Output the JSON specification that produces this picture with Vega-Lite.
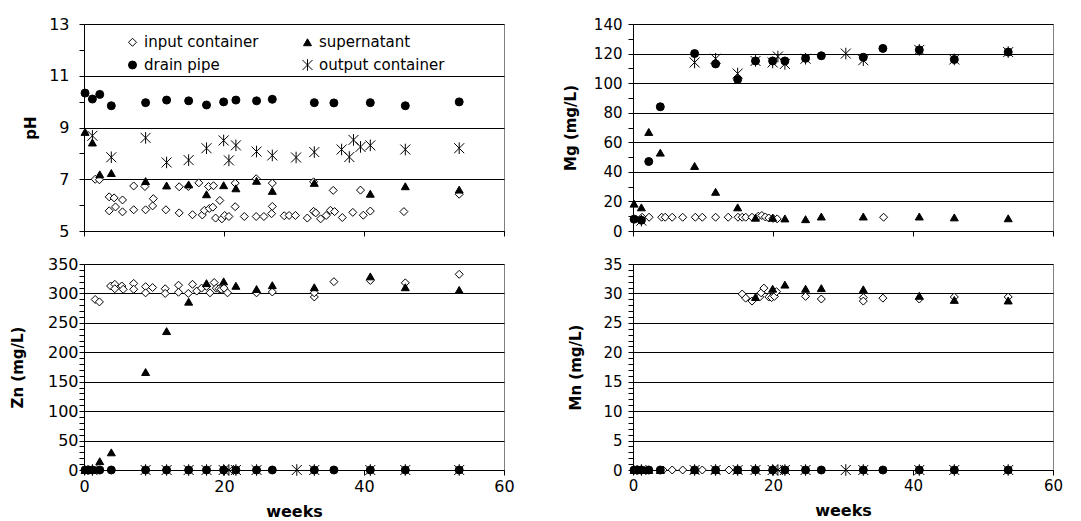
{
"$schema": "https://vega.github.io/schema/vega-lite/v6.json",
"background": "white",
"padding": {"left": 9, "top": 15, "right": 0, "bottom": 0},
"config": {
  "font": "DejaVu Sans",
  "view": {"stroke": "#808080", "strokeWidth": 1},
  "axis": {"labelFont": "DejaVu Sans", "labelColor": "black", "titleFont": "DejaVu Sans", "titleColor": "black", "titleFontWeight": "bold", "titleFontSize": 15, "domainColor": "black", "domainWidth": 1, "tickColor": "black", "tickWidth": 1, "tickSize": 5, "gridColor": "black", "gridWidth": 1, "labelFlush": false, "labelOverlap": false, "labelBound": false},
  "axisX": {"grid": false, "labelPadding": 3, "titlePadding": 9, "titleFontSize": 16}
},
"datasets": {
  "ph": [
    {"series":"input container","week":1.6,"value":7.0},{"series":"input container","week":2.2,"value":6.98},{"series":"input container","week":3.6,"value":6.32},{"series":"input container","week":4.3,"value":6.28},{"series":"input container","week":3.6,"value":5.78},{"series":"input container","week":4.5,"value":5.93},{"series":"input container","week":5.5,"value":6.2},{"series":"input container","week":5.5,"value":5.74},{"series":"input container","week":7.1,"value":6.74},{"series":"input container","week":7.1,"value":5.82},{"series":"input container","week":8.7,"value":6.72},{"series":"input container","week":8.8,"value":5.82},{"series":"input container","week":9.9,"value":6.25},{"series":"input container","week":9.8,"value":5.97},{"series":"input container","week":11.7,"value":5.82},{"series":"input container","week":13.6,"value":6.71},{"series":"input container","week":13.6,"value":5.7},{"series":"input container","week":14.9,"value":6.72},{"series":"input container","week":15.5,"value":5.63},{"series":"input container","week":16.4,"value":6.86},{"series":"input container","week":16.9,"value":5.62},{"series":"input container","week":17.2,"value":5.8},{"series":"input container","week":17.8,"value":6.72},{"series":"input container","week":17.9,"value":5.87},{"series":"input container","week":18.5,"value":6.75},{"series":"input container","week":18.4,"value":5.92},{"series":"input container","week":19.4,"value":6.18},{"series":"input container","week":18.8,"value":5.5},{"series":"input container","week":19.7,"value":5.47},{"series":"input container","week":20.1,"value":5.6},{"series":"input container","week":20.7,"value":5.56},{"series":"input container","week":21.6,"value":6.85},{"series":"input container","week":21.6,"value":5.94},{"series":"input container","week":22.9,"value":5.56},{"series":"input container","week":24.6,"value":7.02},{"series":"input container","week":24.6,"value":5.56},{"series":"input container","week":25.7,"value":5.56},{"series":"input container","week":26.9,"value":6.85},{"series":"input container","week":26.9,"value":5.95},{"series":"input container","week":26.8,"value":5.67},{"series":"input container","week":28.6,"value":5.59},{"series":"input container","week":29.3,"value":5.6},{"series":"input container","week":30.2,"value":5.6},{"series":"input container","week":31.9,"value":5.5},{"series":"input container","week":32.8,"value":5.76},{"series":"input container","week":33.1,"value":5.7},{"series":"input container","week":33.8,"value":5.47},{"series":"input container","week":34.6,"value":5.6},{"series":"input container","week":35.2,"value":5.8},{"series":"input container","week":35.6,"value":6.57},{"series":"input container","week":35.8,"value":5.75},{"series":"input container","week":36.9,"value":5.52},{"series":"input container","week":38.4,"value":5.72},{"series":"input container","week":39.5,"value":6.58},{"series":"input container","week":39.9,"value":5.61},{"series":"input container","week":40.9,"value":5.77},{"series":"input container","week":45.7,"value":5.75},{"series":"input container","week":32.8,"value":6.9},{"series":"input container","week":53.6,"value":6.42},
    {"series":"supernatant","week":0.15,"value":8.83},{"series":"supernatant","week":1.2,"value":8.42},{"series":"supernatant","week":2.25,"value":7.19},{"series":"supernatant","week":3.9,"value":7.24},{"series":"supernatant","week":8.8,"value":6.93},{"series":"supernatant","week":11.8,"value":6.76},{"series":"supernatant","week":14.95,"value":6.8},{"series":"supernatant","week":17.5,"value":6.42},{"series":"supernatant","week":19.95,"value":6.77},{"series":"supernatant","week":21.7,"value":6.65},{"series":"supernatant","week":24.65,"value":6.94},{"series":"supernatant","week":26.9,"value":6.55},{"series":"supernatant","week":32.9,"value":6.86},{"series":"supernatant","week":40.9,"value":6.44},{"series":"supernatant","week":45.9,"value":6.73},{"series":"supernatant","week":53.6,"value":6.6},
    {"series":"drain pipe","week":0.15,"value":10.33},{"series":"drain pipe","week":1.2,"value":10.1},{"series":"drain pipe","week":2.25,"value":10.28},{"series":"drain pipe","week":3.9,"value":9.84},{"series":"drain pipe","week":8.8,"value":9.96},{"series":"drain pipe","week":11.8,"value":10.06},{"series":"drain pipe","week":14.95,"value":10.03},{"series":"drain pipe","week":17.5,"value":9.87},{"series":"drain pipe","week":19.95,"value":9.99},{"series":"drain pipe","week":21.7,"value":10.06},{"series":"drain pipe","week":24.65,"value":10.03},{"series":"drain pipe","week":26.9,"value":10.09},{"series":"drain pipe","week":32.9,"value":9.96},{"series":"drain pipe","week":35.7,"value":9.95},{"series":"drain pipe","week":40.9,"value":9.96},{"series":"drain pipe","week":45.9,"value":9.84},{"series":"drain pipe","week":53.6,"value":9.99},
    {"series":"output container","week":1.2,"value":8.68},{"series":"output container","week":3.9,"value":7.85},{"series":"output container","week":8.8,"value":8.6},{"series":"output container","week":11.8,"value":7.65},{"series":"output container","week":14.95,"value":7.74},{"series":"output container","week":17.5,"value":8.2},{"series":"output container","week":19.95,"value":8.5},{"series":"output container","week":20.7,"value":7.73},{"series":"output container","week":21.7,"value":8.31},{"series":"output container","week":24.65,"value":8.07},{"series":"output container","week":26.9,"value":7.92},{"series":"output container","week":30.3,"value":7.84},{"series":"output container","week":32.9,"value":8.05},{"series":"output container","week":36.8,"value":8.15},{"series":"output container","week":37.9,"value":7.86},{"series":"output container","week":38.5,"value":8.52},{"series":"output container","week":39.5,"value":8.25},{"series":"output container","week":40.9,"value":8.31},{"series":"output container","week":45.9,"value":8.15},{"series":"output container","week":53.6,"value":8.2}
  ],
  "mg": [
    {"series":"input container","week":1.3,"value":9.3},{"series":"input container","week":2.3,"value":9.3},{"series":"input container","week":4.1,"value":9.3},{"series":"input container","week":4.6,"value":9.3},{"series":"input container","week":5.6,"value":9.3},{"series":"input container","week":7.1,"value":9.3},{"series":"input container","week":8.9,"value":9.3},{"series":"input container","week":9.9,"value":9.3},{"series":"input container","week":11.8,"value":9.3},{"series":"input container","week":13.6,"value":9.3},{"series":"input container","week":15.0,"value":9.3},{"series":"input container","week":15.6,"value":9.3},{"series":"input container","week":16.1,"value":9.3},{"series":"input container","week":17.0,"value":9.3},{"series":"input container","week":17.9,"value":10.0},{"series":"input container","week":18.4,"value":10.5},{"series":"input container","week":18.9,"value":9.5},{"series":"input container","week":19.4,"value":8.8},{"series":"input container","week":20.0,"value":8.5},{"series":"input container","week":20.6,"value":8.2},{"series":"input container","week":35.8,"value":9.3},
    {"series":"supernatant","week":0.15,"value":18.5},{"series":"supernatant","week":1.2,"value":16},{"series":"supernatant","week":2.25,"value":67},{"series":"supernatant","week":3.9,"value":53},{"series":"supernatant","week":8.8,"value":44},{"series":"supernatant","week":11.8,"value":26.5},{"series":"supernatant","week":14.95,"value":16},{"series":"supernatant","week":17.5,"value":9},{"series":"supernatant","week":19.95,"value":9},{"series":"supernatant","week":21.7,"value":8.5},{"series":"supernatant","week":24.65,"value":8},{"series":"supernatant","week":26.9,"value":9.8},{"series":"supernatant","week":32.9,"value":9.8},{"series":"supernatant","week":40.9,"value":9.8},{"series":"supernatant","week":45.9,"value":9.2},{"series":"supernatant","week":53.6,"value":8.6},
    {"series":"drain pipe","week":0.15,"value":8},{"series":"drain pipe","week":1.2,"value":7.3},{"series":"drain pipe","week":2.25,"value":47},{"series":"drain pipe","week":3.9,"value":84},{"series":"drain pipe","week":8.8,"value":120},{"series":"drain pipe","week":11.8,"value":113},{"series":"drain pipe","week":14.95,"value":102.5},{"series":"drain pipe","week":17.5,"value":115},{"series":"drain pipe","week":19.95,"value":115},{"series":"drain pipe","week":21.7,"value":115},{"series":"drain pipe","week":24.65,"value":116.8},{"series":"drain pipe","week":26.9,"value":118.5},{"series":"drain pipe","week":32.9,"value":117.5},{"series":"drain pipe","week":35.7,"value":123.5},{"series":"drain pipe","week":40.9,"value":122.5},{"series":"drain pipe","week":45.9,"value":116},{"series":"drain pipe","week":53.6,"value":121},
    {"series":"output container","week":1.2,"value":7},{"series":"output container","week":8.8,"value":114},{"series":"output container","week":11.8,"value":116.5},{"series":"output container","week":14.95,"value":106.5},{"series":"output container","week":17.5,"value":115},{"series":"output container","week":19.95,"value":114},{"series":"output container","week":20.7,"value":118},{"series":"output container","week":21.7,"value":113},{"series":"output container","week":24.65,"value":116.5},{"series":"output container","week":30.4,"value":120},{"series":"output container","week":32.9,"value":115.5},{"series":"output container","week":40.9,"value":122.5},{"series":"output container","week":45.9,"value":116},{"series":"output container","week":53.6,"value":121}
  ],
  "zn": [
    {"series":"input container","week":1.6,"value":289.7},{"series":"input container","week":2.2,"value":285.6},{"series":"input container","week":3.8,"value":312.6},{"series":"input container","week":4.4,"value":315.5},{"series":"input container","week":4.4,"value":308},{"series":"input container","week":5.4,"value":312.6},{"series":"input container","week":5.6,"value":307},{"series":"input container","week":7.1,"value":317},{"series":"input container","week":7.1,"value":307},{"series":"input container","week":8.8,"value":311.5},{"series":"input container","week":8.8,"value":301},{"series":"input container","week":9.8,"value":310},{"series":"input container","week":11.6,"value":308},{"series":"input container","week":11.6,"value":300},{"series":"input container","week":13.5,"value":314},{"series":"input container","week":13.5,"value":302},{"series":"input container","week":14.9,"value":300},{"series":"input container","week":15.5,"value":315.5},{"series":"input container","week":16.1,"value":304},{"series":"input container","week":16.8,"value":309},{"series":"input container","week":17.5,"value":312},{"series":"input container","week":18.0,"value":301},{"series":"input container","week":18.6,"value":318.5},{"series":"input container","week":18.9,"value":309},{"series":"input container","week":19.3,"value":308},{"series":"input container","week":19.6,"value":307},{"series":"input container","week":20.0,"value":309},{"series":"input container","week":20.5,"value":301},{"series":"input container","week":24.65,"value":301},{"series":"input container","week":26.9,"value":302.5},{"series":"input container","week":32.9,"value":294},{"series":"input container","week":32.9,"value":301},{"series":"input container","week":35.7,"value":320},{"series":"input container","week":40.9,"value":322},{"series":"input container","week":45.9,"value":318},{"series":"input container","week":53.6,"value":332.5},
    {"series":"supernatant","week":0.15,"value":0},{"series":"supernatant","week":1.2,"value":0},{"series":"supernatant","week":2.25,"value":15},{"series":"supernatant","week":3.9,"value":30},{"series":"supernatant","week":8.8,"value":166.5},{"series":"supernatant","week":11.8,"value":236},{"series":"supernatant","week":14.95,"value":286},{"series":"supernatant","week":17.5,"value":317.5},{"series":"supernatant","week":19.95,"value":320.5},{"series":"supernatant","week":21.7,"value":313},{"series":"supernatant","week":24.65,"value":307.5},{"series":"supernatant","week":26.9,"value":314},{"series":"supernatant","week":32.9,"value":310.5},{"series":"supernatant","week":40.9,"value":329},{"series":"supernatant","week":45.9,"value":310.5},{"series":"supernatant","week":53.6,"value":306},
    {"series":"drain pipe","week":0.15,"value":0},{"series":"drain pipe","week":0.7,"value":0},{"series":"drain pipe","week":1.2,"value":0},{"series":"drain pipe","week":2.25,"value":0},{"series":"drain pipe","week":3.9,"value":0},{"series":"drain pipe","week":8.8,"value":0},{"series":"drain pipe","week":11.8,"value":0},{"series":"drain pipe","week":14.95,"value":0},{"series":"drain pipe","week":17.5,"value":0},{"series":"drain pipe","week":19.95,"value":0},{"series":"drain pipe","week":21.7,"value":0},{"series":"drain pipe","week":24.65,"value":0},{"series":"drain pipe","week":26.9,"value":0},{"series":"drain pipe","week":32.9,"value":0},{"series":"drain pipe","week":35.7,"value":0},{"series":"drain pipe","week":40.9,"value":0},{"series":"drain pipe","week":45.9,"value":0},{"series":"drain pipe","week":53.6,"value":0},
    {"series":"output container","week":1.2,"value":0},{"series":"output container","week":8.8,"value":0},{"series":"output container","week":11.8,"value":0},{"series":"output container","week":14.95,"value":0},{"series":"output container","week":17.5,"value":0},{"series":"output container","week":19.95,"value":0},{"series":"output container","week":20.7,"value":0},{"series":"output container","week":21.7,"value":0},{"series":"output container","week":24.65,"value":0},{"series":"output container","week":30.4,"value":0},{"series":"output container","week":32.9,"value":0},{"series":"output container","week":40.9,"value":0},{"series":"output container","week":45.9,"value":0},{"series":"output container","week":53.6,"value":0}
  ],
  "mn": [
    {"series":"input container","week":4.3,"value":0},{"series":"input container","week":5.6,"value":0},{"series":"input container","week":7.1,"value":0},{"series":"input container","week":9.9,"value":0},{"series":"input container","week":13.7,"value":0},{"series":"input container","week":15.6,"value":29.9},{"series":"input container","week":16.1,"value":29.2},{"series":"input container","week":17.0,"value":28.7},{"series":"input container","week":18.1,"value":29.4},{"series":"input container","week":18.3,"value":30.1},{"series":"input container","week":18.7,"value":30.9},{"series":"input container","week":19.4,"value":29.4},{"series":"input container","week":19.8,"value":29.3},{"series":"input container","week":20.2,"value":29.5},{"series":"input container","week":20.5,"value":30.3},{"series":"input container","week":24.65,"value":29.5},{"series":"input container","week":26.9,"value":29.05},{"series":"input container","week":32.9,"value":29.3},{"series":"input container","week":32.9,"value":28.7},{"series":"input container","week":35.7,"value":29.2},{"series":"input container","week":40.9,"value":29.05},{"series":"input container","week":45.9,"value":29.4},{"series":"input container","week":53.6,"value":29.4},
    {"series":"supernatant","week":0.15,"value":0},{"series":"supernatant","week":1.2,"value":0},{"series":"supernatant","week":2.25,"value":0},{"series":"supernatant","week":3.9,"value":0},{"series":"supernatant","week":8.8,"value":0},{"series":"supernatant","week":11.8,"value":0},{"series":"supernatant","week":14.95,"value":0},{"series":"supernatant","week":17.5,"value":29.4},{"series":"supernatant","week":19.95,"value":30.8},{"series":"supernatant","week":21.7,"value":31.5},{"series":"supernatant","week":24.65,"value":30.8},{"series":"supernatant","week":26.9,"value":30.9},{"series":"supernatant","week":32.9,"value":30.7},{"series":"supernatant","week":40.9,"value":29.6},{"series":"supernatant","week":45.9,"value":28.9},{"series":"supernatant","week":53.6,"value":28.8},
    {"series":"drain pipe","week":0.15,"value":0},{"series":"drain pipe","week":0.7,"value":0},{"series":"drain pipe","week":1.2,"value":0},{"series":"drain pipe","week":2.25,"value":0},{"series":"drain pipe","week":3.9,"value":0},{"series":"drain pipe","week":8.8,"value":0},{"series":"drain pipe","week":11.8,"value":0},{"series":"drain pipe","week":14.95,"value":0},{"series":"drain pipe","week":17.5,"value":0},{"series":"drain pipe","week":19.95,"value":0},{"series":"drain pipe","week":21.7,"value":0},{"series":"drain pipe","week":24.65,"value":0},{"series":"drain pipe","week":26.9,"value":0},{"series":"drain pipe","week":32.9,"value":0},{"series":"drain pipe","week":35.7,"value":0},{"series":"drain pipe","week":40.9,"value":0},{"series":"drain pipe","week":45.9,"value":0},{"series":"drain pipe","week":53.6,"value":0},
    {"series":"output container","week":1.2,"value":0},{"series":"output container","week":8.8,"value":0},{"series":"output container","week":11.8,"value":0},{"series":"output container","week":14.95,"value":0},{"series":"output container","week":17.5,"value":0},{"series":"output container","week":19.95,"value":0},{"series":"output container","week":20.7,"value":0},{"series":"output container","week":21.7,"value":0},{"series":"output container","week":24.65,"value":0},{"series":"output container","week":30.4,"value":0},{"series":"output container","week":32.9,"value":0},{"series":"output container","week":40.9,"value":0},{"series":"output container","week":45.9,"value":0},{"series":"output container","week":53.6,"value":0}
  ]
},
"columns": 2,
"spacing": {"row": 15, "column": 47},
"resolve": {"legend": {"shape": "independent", "fill": "independent", "stroke": "independent"}},
"concat": [
  {
    "width": 420, "height": 207,
    "data": {"name": "ph"},
    "mark": {"type": "point", "filled": false, "opacity": 1, "strokeWidth": 1, "size": 64},
    "encoding": {
      "x": {"field": "week", "type": "quantitative", "scale": {"domain": [0, 60], "nice": false}, "axis": {"values": [0, 20, 40, 60], "labels": false, "title": null}},
      "y": {"field": "value", "type": "quantitative", "scale": {"domain": [5, 13], "nice": false, "zero": false}, "axis": {"values": [5, 6, 7, 8, 9, 10, 11, 12, 13], "labelExpr": "(datum.value - 5) % 2 === 0 ? datum.label : ''", "grid": true, "gridOpacity": {"condition": {"test": "(datum.value - 5) % 2 === 0", "value": 1}, "value": 0}, "title": "pH", "labelFontSize": 16, "labelPadding": 10, "titlePadding": 10}},
      "shape": {"field": "series", "type": "nominal", "scale": {"domain": ["input container", "supernatant", "drain pipe", "output container"], "range": ["diamond", "triangle-up", "circle", "M-1.25,-1.25L1.25,1.25M-1.25,1.25L1.25,-1.25M0,-1.45L0,1.45"]}, "legend": {"orient": "none", "legendX": 41, "legendY": 10.5, "columns": 2, "direction": "horizontal", "title": null, "labelFont": "DejaVu Sans", "labelFontSize": 15, "labelColor": "black", "symbolStrokeWidth": 1, "symbolSize": 64, "symbolOpacity": 1, "labelOffset": 4, "columnPadding": 41, "rowPadding": 6, "padding": 0}},
      "fill": {"field": "series", "type": "nominal", "scale": {"domain": ["input container", "supernatant", "drain pipe", "output container"], "range": ["white", "black", "black", "transparent"]}, "legend": {"orient": "none", "legendX": 41, "legendY": 10.5, "columns": 2, "direction": "horizontal", "title": null, "labelFont": "DejaVu Sans", "labelFontSize": 15, "labelColor": "black", "symbolStrokeWidth": 1, "symbolSize": 64, "symbolOpacity": 1, "labelOffset": 4, "columnPadding": 41, "rowPadding": 6, "padding": 0}},
      "stroke": {"field": "series", "type": "nominal", "scale": {"domain": ["input container", "supernatant", "drain pipe", "output container"], "range": ["black", "black", "black", "black"]}, "legend": {"orient": "none", "legendX": 41, "legendY": 10.5, "columns": 2, "direction": "horizontal", "title": null, "labelFont": "DejaVu Sans", "labelFontSize": 15, "labelColor": "black", "symbolStrokeWidth": 1, "symbolSize": 64, "symbolOpacity": 1, "labelOffset": 4, "columnPadding": 41, "rowPadding": 6, "padding": 0}}
    }
  },
  {
    "width": 420, "height": 207,
    "data": {"name": "mg"},
    "mark": {"type": "point", "filled": false, "opacity": 1, "strokeWidth": 1, "size": 64},
    "encoding": {
      "x": {"field": "week", "type": "quantitative", "scale": {"domain": [0, 60], "nice": false}, "axis": {"values": [0, 20, 40, 60], "labels": false, "title": null}},
      "y": {"field": "value", "type": "quantitative", "scale": {"domain": [0, 140], "nice": false}, "axis": {"values": [0, 10, 20, 30, 40, 50, 60, 70, 80, 90, 100, 110, 120, 130, 140], "labelExpr": "datum.value % 20 === 0 ? datum.label : ''", "grid": true, "gridOpacity": {"condition": {"test": "datum.value % 20 === 0", "value": 1}, "value": 0}, "title": "Mg (mg/L)", "labelFontSize": 15, "labelPadding": 6, "titlePadding": 15}},
      "shape": {"field": "series", "type": "nominal", "scale": {"domain": ["input container", "supernatant", "drain pipe", "output container"], "range": ["diamond", "triangle-up", "circle", "M-1.25,-1.25L1.25,1.25M-1.25,1.25L1.25,-1.25M0,-1.45L0,1.45"]}, "legend": null},
      "fill": {"field": "series", "type": "nominal", "scale": {"domain": ["input container", "supernatant", "drain pipe", "output container"], "range": ["white", "black", "black", "transparent"]}, "legend": null},
      "stroke": {"field": "series", "type": "nominal", "scale": {"domain": ["input container", "supernatant", "drain pipe", "output container"], "range": ["black", "black", "black", "black"]}, "legend": null}
    }
  },
  {
    "width": 420, "height": 206,
    "data": {"name": "zn"},
    "mark": {"type": "point", "filled": false, "opacity": 1, "strokeWidth": 1, "size": 64},
    "encoding": {
      "x": {"field": "week", "type": "quantitative", "scale": {"domain": [0, 60], "nice": false}, "axis": {"values": [0, 20, 40, 60], "title": "weeks", "labelFontSize": 16}},
      "y": {"field": "value", "type": "quantitative", "scale": {"domain": [0, 350], "nice": false}, "axis": {"values": [0, 10, 20, 30, 40, 50, 60, 70, 80, 90, 100, 110, 120, 130, 140, 150, 160, 170, 180, 190, 200, 210, 220, 230, 240, 250, 260, 270, 280, 290, 300, 310, 320, 330, 340, 350], "labelExpr": "datum.value % 50 === 0 ? datum.label : ''", "grid": true, "gridOpacity": {"condition": {"test": "datum.value % 50 === 0", "value": 1}, "value": 0}, "title": "Zn (mg/L)", "labelFontSize": 16, "labelPadding": 1, "titlePadding": 22}},
      "shape": {"field": "series", "type": "nominal", "scale": {"domain": ["input container", "supernatant", "drain pipe", "output container"], "range": ["diamond", "triangle-up", "circle", "M-1.25,-1.25L1.25,1.25M-1.25,1.25L1.25,-1.25M0,-1.45L0,1.45"]}, "legend": null},
      "fill": {"field": "series", "type": "nominal", "scale": {"domain": ["input container", "supernatant", "drain pipe", "output container"], "range": ["white", "black", "black", "transparent"]}, "legend": null},
      "stroke": {"field": "series", "type": "nominal", "scale": {"domain": ["input container", "supernatant", "drain pipe", "output container"], "range": ["black", "black", "black", "black"]}, "legend": null}
    }
  },
  {
    "width": 420, "height": 206,
    "data": {"name": "mn"},
    "mark": {"type": "point", "filled": false, "opacity": 1, "strokeWidth": 1, "size": 64},
    "encoding": {
      "x": {"field": "week", "type": "quantitative", "scale": {"domain": [0, 60], "nice": false}, "axis": {"values": [0, 20, 40, 60], "title": "weeks", "labelFontSize": 15}},
      "y": {"field": "value", "type": "quantitative", "scale": {"domain": [0, 35], "nice": false}, "axis": {"values": [0, 1, 2, 3, 4, 5, 6, 7, 8, 9, 10, 11, 12, 13, 14, 15, 16, 17, 18, 19, 20, 21, 22, 23, 24, 25, 26, 27, 28, 29, 30, 31, 32, 33, 34, 35], "labelExpr": "datum.value % 5 === 0 ? datum.label : ''", "grid": true, "gridOpacity": {"condition": {"test": "datum.value % 5 === 0", "value": 1}, "value": 0}, "title": "Mn (mg/L)", "labelFontSize": 15, "labelPadding": 6, "titlePadding": 19}},
      "shape": {"field": "series", "type": "nominal", "scale": {"domain": ["input container", "supernatant", "drain pipe", "output container"], "range": ["diamond", "triangle-up", "circle", "M-1.25,-1.25L1.25,1.25M-1.25,1.25L1.25,-1.25M0,-1.45L0,1.45"]}, "legend": null},
      "fill": {"field": "series", "type": "nominal", "scale": {"domain": ["input container", "supernatant", "drain pipe", "output container"], "range": ["white", "black", "black", "transparent"]}, "legend": null},
      "stroke": {"field": "series", "type": "nominal", "scale": {"domain": ["input container", "supernatant", "drain pipe", "output container"], "range": ["black", "black", "black", "black"]}, "legend": null}
    }
  }
]
}
